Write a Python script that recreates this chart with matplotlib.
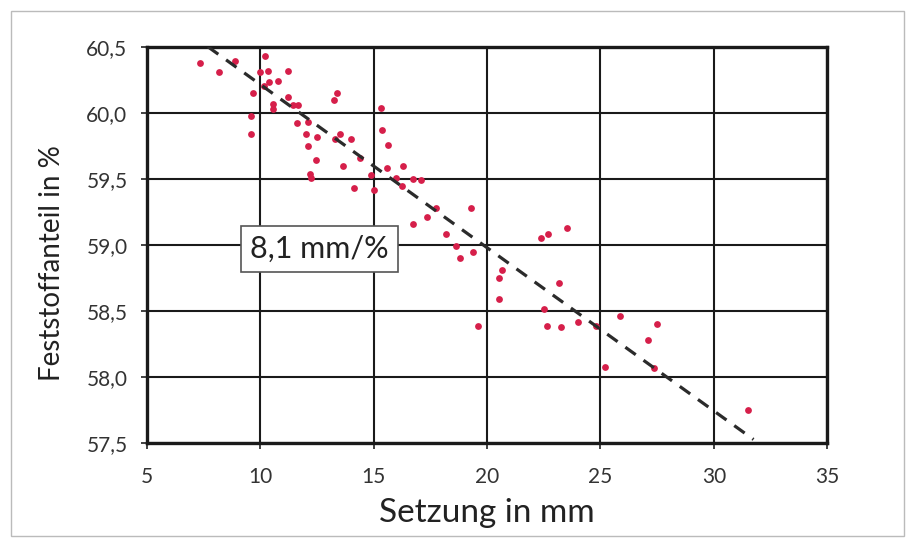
import matplotlib
matplotlib.use('Agg')
from matplotlib import pyplot as plt
from matplotlib.patches import Rectangle

# Messwerte: Setzung (mm) und Feststoffanteil (%)
setzung = [7.36, 8.18, 8.89, 9.60, 9.60, 9.67, 9.98, 10.21, 10.33, 10.38,
           10.18, 10.54, 10.56, 10.77, 11.22, 11.22, 11.45, 11.68, 11.63, 12.01,
           12.09, 12.09, 12.21, 12.24, 12.44, 12.52, 13.23, 13.38, 13.30, 13.51,
           13.66, 14.02, 14.14, 14.40, 14.90, 15.03, 15.34, 15.36, 15.57, 15.62,
           16.00, 16.28, 16.23, 16.73, 17.07, 16.73, 17.37, 17.73, 18.18, 18.61,
           18.82, 19.30, 19.40, 19.61, 20.52, 20.52, 20.67, 22.37, 22.68, 22.50,
           22.65, 23.19, 23.26, 23.54, 24.00, 24.81, 25.19, 25.85, 27.10, 27.38,
           27.50, 31.49]
feststoff = [60.38, 60.31, 60.39, 59.98, 59.84, 60.15, 60.31, 60.43, 60.32, 60.23,
             60.20, 60.07, 60.03, 60.24, 60.32, 60.12, 60.06, 60.06, 59.92, 59.84,
             59.93, 59.75, 59.54, 59.51, 59.64, 59.82, 60.10, 60.15, 59.80, 59.84,
             59.60, 59.80, 59.43, 59.66, 59.53, 59.42, 60.04, 59.87, 59.58, 59.76,
             59.51, 59.60, 59.45, 59.50, 59.49, 59.16, 59.21, 59.28, 59.08, 58.99,
             58.90, 59.28, 58.95, 58.39, 58.75, 58.59, 58.81, 59.05, 59.08, 58.52,
             58.39, 58.71, 58.38, 59.13, 58.42, 58.39, 58.08, 58.46, 58.28, 58.07,
             58.40, 57.75]

# Ausgleichsgerade: 8,1 mm pro %
steigung_mm_pro_proz = 8.1
x_start, y_start = 7.69, 60.5
x_ende = 31.75
fit_x = [x_start, x_ende]
fit_y = [y_start - (xx - x_start) / steigung_mm_pro_proz for xx in fit_x]

x_ticks = [5, 10, 15, 20, 25, 30, 35]
y_ticks = [57.5, 58.0, 58.5, 59.0, 59.5, 60.0, 60.5]

plt.rcParams['font.family'] = ['Lato', 'DejaVu Sans']

fig = plt.figure(figsize=(9.07, 5.44), dpi=100)
ax = fig.add_axes([0.162, 0.185, 0.75, 0.729])

ax.scatter(setzung, feststoff, s=24, color='#d61f4a', zorder=3, linewidths=0)
ax.plot(fit_x, fit_y, color='#2b2b2b', lw=2.3, dashes=(4, 3), zorder=4)

ax.set_xlim(5, 35)
ax.set_ylim(57.5, 60.5)
ax.set_xticks(x_ticks)
ax.set_yticks(y_ticks)
ax.set_yticklabels(['{:.1f}'.format(v).replace('.', ',') for v in y_ticks])
ax.tick_params(labelsize=15, colors='#333333', length=4, width=1.3)
ax.tick_params(axis='y', pad=10)
ax.tick_params(axis='x', pad=13)
ax.grid(color='#1a1a1a', lw=1.5)
ax.set_axisbelow(True)
for s in ax.spines.values():
    s.set_linewidth(2.4)
    s.set_color('#1a1a1a')

ax.set_xlabel('Setzung in mm', fontsize=24, color='#222222', labelpad=8)
ax.set_ylabel('Feststoffanteil in %', fontsize=20, color='#222222')
ax.yaxis.set_label_coords(-0.12, 0.455)

ax.text(12.62, 58.97, '8,1 mm/%', fontsize=22, color='#222222', ha='center', va='center',
        bbox=dict(boxstyle='square,pad=0.3', fc='white', ec='#555555', lw=1.2), zorder=5)

# Rahmen um das ganze Diagramm
fig.patches.append(Rectangle((0.012, 0.015), 0.985, 0.965, transform=fig.transFigure,
                             fill=False, ec='#bbbbbb', lw=1.0))

fig.savefig('out.png', dpi=100)
